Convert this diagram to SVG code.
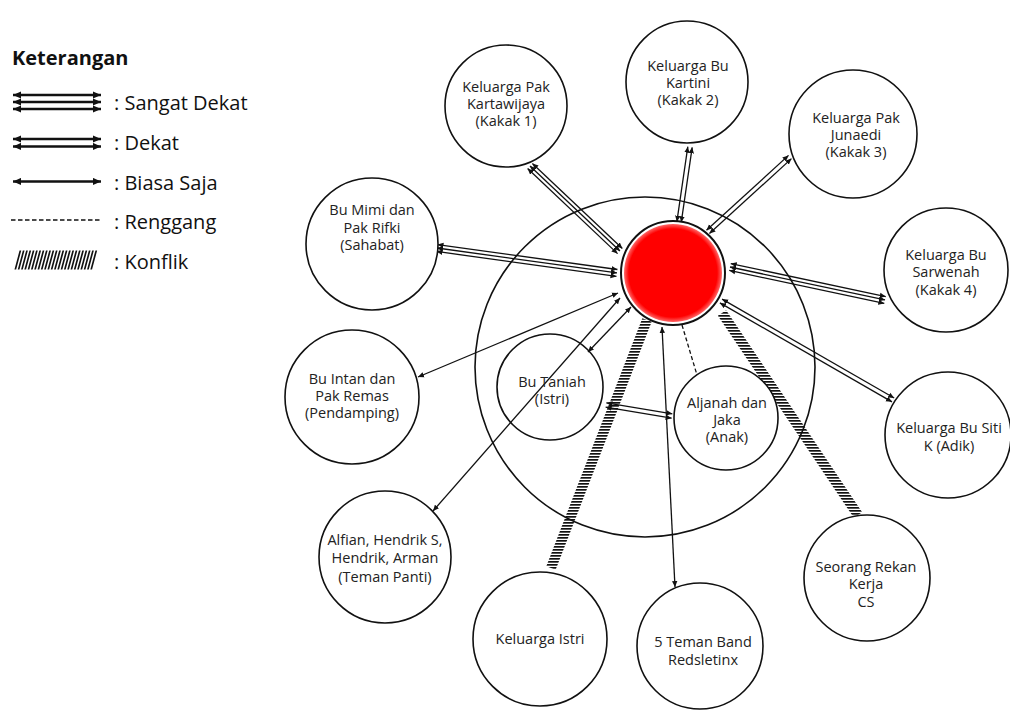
<svg xmlns="http://www.w3.org/2000/svg" width="1010" height="713" viewBox="0 0 1010 713">
<style>
.n{fill:#fff;stroke:#111;stroke-width:1.6}
.t{font-family:"Open Sans","Noto Sans","Liberation Sans",sans-serif;font-size:14.5px;fill:#222;text-anchor:middle}
.lg{font-family:"Open Sans","Noto Sans","Liberation Sans",sans-serif;font-size:20px;fill:#111}
.c{stroke:#111;stroke-width:1.3;fill:none;marker-start:url(#ah);marker-end:url(#ah)}
.s{stroke:#111;stroke-width:1.3;fill:none;marker-start:url(#ah);marker-end:url(#ah)}
.l{stroke:#111;stroke-width:2.6;fill:none;marker-start:url(#al);marker-end:url(#al)}
.h{stroke:url(#hatch);stroke-width:10;fill:none}
</style>
<defs>
<marker id="ah" viewBox="0 0 10 10" refX="10" refY="5" markerUnits="userSpaceOnUse" markerWidth="6" markerHeight="6" orient="auto-start-reverse"><path d="M0,0.5 L10,5 L0,9.5 z" fill="#111"/></marker>
<marker id="al" viewBox="0 0 10 10" refX="10" refY="5" markerUnits="userSpaceOnUse" markerWidth="8" markerHeight="8" orient="auto-start-reverse"><path d="M0,0.5 L10,5 L0,9.5 z" fill="#111"/></marker>
<pattern id="hatch" patternUnits="userSpaceOnUse" width="10" height="3"><rect width="10" height="1.7" fill="#111"/></pattern>
<radialGradient id="red"><stop offset="0.9" stop-color="#ff0000"/><stop offset="1" stop-color="#ff6666"/></radialGradient>
</defs>

<g id="legend">
<text class="lg" x="12" y="65" font-weight="bold">Keterangan</text>
<line class="l" x1="13" y1="95" x2="101" y2="95"/>
<line class="l" x1="13" y1="102" x2="101" y2="102"/>
<line class="l" x1="13" y1="109" x2="101" y2="109"/>
<text class="lg" x="114" y="110">: Sangat Dekat</text>
<line class="l" x1="13" y1="139" x2="101" y2="139"/>
<line class="l" x1="13" y1="146.5" x2="101" y2="146.5"/>
<text class="lg" x="114" y="150">: Dekat</text>
<line class="l" x1="13" y1="181.5" x2="101" y2="181.5"/>
<text class="lg" x="114" y="190">: Biasa Saja</text>
<line x1="11" y1="220" x2="100" y2="220" stroke="#111" stroke-width="1.6" stroke-dasharray="4.5 2.5"/>
<text class="lg" x="114" y="229">: Renggang</text>
<g transform="translate(0,260) skewX(-15)"><line x1="17" y1="0" x2="96" y2="0" stroke="#111" stroke-width="19" stroke-dasharray="1.7 1.6"/></g>
<text class="lg" x="114" y="269">: Konflik</text>
</g>

<circle cx="645" cy="367" r="170" fill="none" stroke="#111" stroke-width="1.6"/>

<g id="connectors">
<g transform="translate(530,166) rotate(43.4)"><line class="c" x1="0" y1="-3.5" x2="123.8" y2="-3.5"/><line class="c" x1="0" y1="0" x2="123.8" y2="0"/><line class="c" x1="0" y1="3.5" x2="123.8" y2="3.5"/></g>
<g transform="translate(437,248) rotate(7.9)"><line class="c" x1="0" y1="-3.5" x2="181.7" y2="-3.5"/><line class="c" x1="0" y1="0" x2="181.7" y2="0"/><line class="c" x1="0" y1="3.5" x2="181.7" y2="3.5"/></g>
<g transform="translate(690,147) rotate(98.3)"><line class="c" x1="0" y1="-2.2" x2="75.8" y2="-2.2"/><line class="c" x1="0" y1="2.2" x2="75.8" y2="2.2"/></g>
<g transform="translate(790,157) rotate(137.6)"><line class="c" x1="0" y1="-2.2" x2="111.1" y2="-2.2"/><line class="c" x1="0" y1="2.2" x2="111.1" y2="2.2"/></g>
<g transform="translate(730,267) rotate(12)"><line class="c" x1="0" y1="-3.5" x2="158.5" y2="-3.5"/><line class="c" x1="0" y1="0" x2="158.5" y2="0"/><line class="c" x1="0" y1="3.5" x2="158.5" y2="3.5"/></g>
<g transform="translate(721,301) rotate(29.9)"><line class="c" x1="0" y1="-2.2" x2="198.5" y2="-2.2"/><line class="c" x1="0" y1="2.2" x2="198.5" y2="2.2"/></g>
<g transform="translate(606,405) rotate(9.5)"><line class="c" x1="0" y1="-2.2" x2="66.9" y2="-2.2"/><line class="c" x1="0" y1="2.2" x2="66.9" y2="2.2"/></g>
<line class="s" x1="662" y1="327" x2="675" y2="587"/>
<line class="s" x1="620" y1="298" x2="433" y2="511"/>
<line class="s" x1="618" y1="293" x2="418" y2="377"/>
<line class="s" x1="631" y1="307" x2="588" y2="352"/>
<line x1="682" y1="325" x2="697" y2="375" stroke="#111" stroke-width="1.3" stroke-dasharray="4 2.5"/>
<line class="h" x1="647" y1="320" x2="551" y2="568"/>
<line class="h" x1="722" y1="313" x2="858" y2="515"/>
</g>

<g id="ego">
<circle cx="673" cy="273" r="52" fill="#fff" stroke="#111" stroke-width="2"/>
<circle cx="673" cy="273" r="49" fill="url(#red)"/>
</g>

<g id="kakak1"><circle class="n" cx="506" cy="106" r="61"/><text class="t" x="506" y="92">Keluarga Pak</text><text class="t" x="506" y="109">Kartawijaya</text><text class="t" x="506" y="126">(Kakak 1)</text></g>
<g id="kakak2"><circle class="n" cx="687" cy="82" r="61"/><text class="t" x="688" y="71">Keluarga Bu</text><text class="t" x="688" y="88">Kartini</text><text class="t" x="688" y="105">(Kakak 2)</text></g>
<g id="kakak3"><circle class="n" cx="853" cy="134" r="64"/><text class="t" x="856" y="123">Keluarga Pak</text><text class="t" x="856" y="140">Junaedi</text><text class="t" x="856" y="157">(Kakak 3)</text></g>
<g id="kakak4"><circle class="n" cx="946" cy="270" r="62"/><text class="t" x="946" y="260">Keluarga Bu</text><text class="t" x="946" y="277">Sarwenah</text><text class="t" x="946" y="295">(Kakak 4)</text></g>
<g id="adik"><circle class="n" cx="948" cy="435" r="63"/><text class="t" x="949" y="433">Keluarga Bu Siti</text><text class="t" x="949" y="451">K (Adik)</text></g>
<g id="rekan"><circle class="n" cx="867" cy="578" r="63"/><text class="t" x="866" y="572">Seorang Rekan</text><text class="t" x="866" y="589">Kerja</text><text class="t" x="866" y="607">CS</text></g>
<g id="band"><circle class="n" cx="700" cy="646" r="63"/><text class="t" x="703" y="647">5 Teman Band</text><text class="t" x="703" y="665">Redsletinx</text></g>
<g id="kelistri"><circle class="n" cx="540" cy="639" r="67"/><text class="t" x="540" y="644">Keluarga Istri</text></g>
<g id="teman"><circle class="n" cx="385" cy="557" r="66"/><text class="t" x="385" y="545">Alfian, Hendrik S,</text><text class="t" x="385" y="563">Hendrik, Arman</text><text class="t" x="385" y="582">(Teman Panti)</text></g>
<g id="pendamping"><circle class="n" cx="352" cy="397" r="67"/><text class="t" x="352" y="384">Bu Intan dan</text><text class="t" x="352" y="401">Pak Remas</text><text class="t" x="352" y="418">(Pendamping)</text></g>
<g id="sahabat"><circle class="n" cx="372" cy="244" r="66"/><text class="t" x="372" y="215">Bu Mimi dan</text><text class="t" x="372" y="233">Pak Rifki</text><text class="t" x="372" y="250">(Sahabat)</text></g>
<g id="istri"><circle cx="550" cy="387" r="53" fill="none" stroke="#111" stroke-width="1.6"/><text class="t" x="552" y="387">Bu Taniah</text><text class="t" x="552" y="404">(Istri)</text></g>
<g id="anak"><circle class="n" cx="726" cy="418" r="52"/><text class="t" x="727" y="408">Aljanah dan</text><text class="t" x="727" y="425">Jaka</text><text class="t" x="727" y="442">(Anak)</text></g>
</svg>
